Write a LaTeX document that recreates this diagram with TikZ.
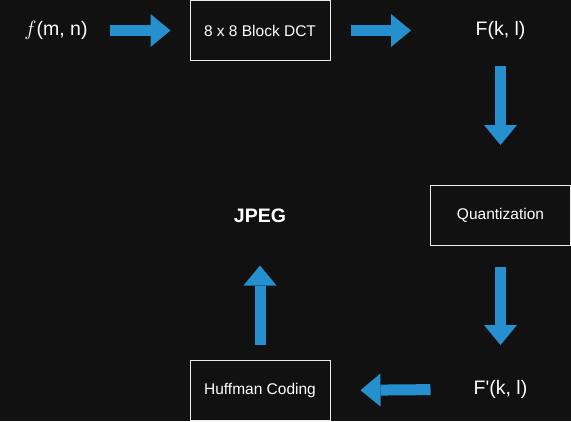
\documentclass[tikz,border=0pt]{standalone}
\usepackage{fontspec}
\setmainfont{Liberation Sans}
\usetikzlibrary{positioning}
\usetikzlibrary{arrows.meta}
\definecolor{bgcolor}{RGB}{17,17,17}
\definecolor{arrowblue}{RGB}{38,143,205}
\tikzstyle{stage}=[rectangle,draw=white!92!black,line width=1pt,fill=bgcolor,text=white,minimum width=140pt,minimum height=60pt,inner sep=0pt,font=\fontsize{15.5}{18}\selectfont]
\tikzstyle{signal}=[text=white,inner sep=0pt,font=\fontsize{19.5}{23}\selectfont]
\tikzstyle{flow}=[draw=arrowblue,line width=11pt,-{Triangle[width=33pt,length=20pt,line width=0pt]}]

\begin{document}
\begin{tikzpicture}[x=1pt,y=-1pt]
    % Background of the whole page
    \fill[bgcolor] (0,0) rectangle (571,421);
    \useasboundingbox (0,0) rectangle (571,421);

    % First we draw the boxes
    \foreach \pos/\name/\txt in {{(260,30.5)/dct/8 x 8 Block DCT}, {(500.5,215)/quant/Quantization}, {(260,390.5)/huff/Huffman Coding}}
        \node[stage] (\name) at \pos {\txt};

    % Then the signals between them
    \foreach \pos/\name/\txt in {{(56,30.5)/fmn/$f$(m, n)}, {(500.5,30.5)/fkl/F(k, l)}, {(500.5,389)/fpkl/F\textquotesingle(k, l)}, {(260,216)/jpeg/\bfseries JPEG}}
        \node[signal] (\name) at \pos {\txt};

    % Connect them with block arrows
    \foreach \source/\dest/\a/\b in {fmn.center/dct.west/54/19, dct.east/fkl.center/20/89.5, fkl.center/quant.north/35/39.5, quant.south/fpkl.center/21/44, fpkl.center/huff.east/70/30, huff.north/jpeg.center/15.5/49.5}
        \path[flow, shorten <=\a pt, shorten >=\b pt] (\source) -- (\dest);
\end{tikzpicture}
\end{document}
